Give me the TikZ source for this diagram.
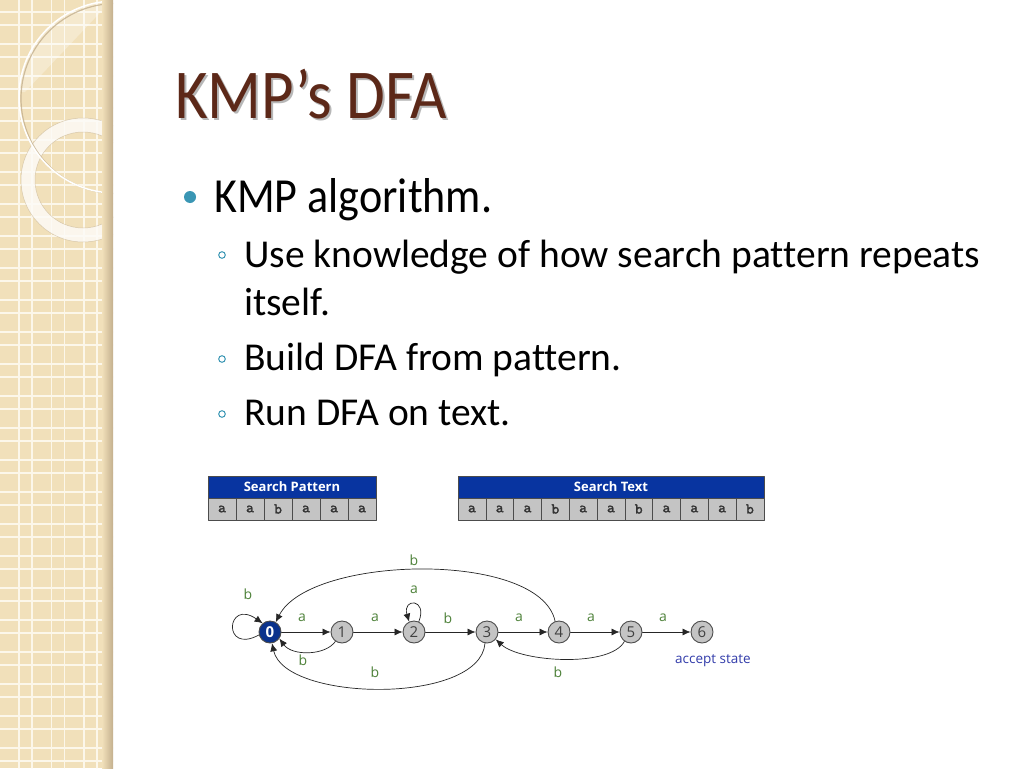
\documentclass[tikz,border=0pt]{standalone}
\usepackage{fontspec}
\setmainfont{Carlito}[Ligatures=NoCommon]
\newfontfamily\narrowfont{Carlito}[FakeStretch=0.9,Ligatures=NoCommon]
\newfontfamily\comicfont{Open Sans}
\newfontfamily\cellfont{lmmono10-regular.otf}[FakeBold=2]
\usetikzlibrary{arrows.meta}
\definecolor{stripbeige}{RGB}{241,224,186}
\definecolor{gridline}{RGB}{252,247,234}
\definecolor{stripshade}{RGB}{196,176,142}
\definecolor{titlebrown}{RGB}{92,40,24}
\definecolor{bullteal}{RGB}{58,150,180}
\definecolor{headblue}{RGB}{8,52,160}
\definecolor{cellgray}{RGB}{196,196,196}
\definecolor{labgreen}{RGB}{78,130,58}
\definecolor{stateblue}{RGB}{10,50,140}
\definecolor{acceptblue}{RGB}{50,60,170}
\begin{document}
\begin{tikzpicture}[x=1pt,y=-1pt,line cap=round,line join=round,
    dfastate/.style={circle,draw=black!70,line width=0.9pt,fill=cellgray,minimum size=22pt,inner sep=0pt,
      text=black!75,font=\comicfont\fontsize{15}{15}\selectfont},
    startstate/.style={dfastate,fill=stateblue,text=white,font=\comicfont\bfseries\fontsize{15}{15}\selectfont},
    edgelab/.style={text=labgreen,inner sep=1pt,font=\comicfont\fontsize{14}{14}\selectfont},
    dfamove/.style={-{Latex[length=8pt,width=7pt]},line width=0.7pt,black!85},
    tabhead/.style={fill=headblue,draw=black!70,line width=0.6pt,minimum height=22pt,inner sep=0pt,
      text=white,font=\comicfont\bfseries\fontsize{13}{14}\selectfont},
    tabcell/.style={fill=cellgray,draw=black!70,line width=0.6pt,minimum width=28pt,minimum height=22pt,inner sep=0pt,
      text=black!80,font=\cellfont\fontsize{15}{15}\selectfont},
    slidetext/.style={anchor=base west,inner sep=0pt,font=\fontsize{39.5}{40}\selectfont}]
  \useasboundingbox (0,0) rectangle (1024,768);
  \fill[white] (0,0) rectangle (1024,768);

  % left strip
  \begin{scope}
    \clip (0,0) rectangle (113,768);
    \fill[stripbeige] (0,0) rectangle (113,768);
    \foreach \k in {0,...,3} {
      \draw[gridline,line width=1.1pt] ({19+32.5*\k},0) -- ({19+32.5*\k},768);
      \draw[gridline,line width=1.1pt] ({32+32.5*\k},0) -- ({32+32.5*\k},768);
    }
    \foreach \k in {0,...,23} {
      \draw[gridline,line width=1.1pt] (0,{12+32*\k}) -- (113,{12+32*\k});
      \draw[gridline,line width=1.1pt] (0,{25+32*\k}) -- (113,{25+32*\k});
    }
    \begin{scope}
      \clip (115,97) circle (96);
      \fill[white,opacity=0.3] (0,0) -- (112,0) -- (25,92) -- (0,92) -- cycle;
    \end{scope}
    \fill[even odd rule,white!88!stripbeige,opacity=0.85] (83,180) circle (62) (83,180) circle (48);
    \draw[stripshade,line width=0.5pt,opacity=0.6] (83,180) circle (62) (83,180) circle (48);
    \draw[stripshade,line width=1.2pt,opacity=0.8] (116,98.5) circle (95);
    \draw[white,line width=1.5pt] (115,97) circle (96);
    \shade[left color=stripbeige,right color=stripshade] (102,0) rectangle (113,768);
  \end{scope}

  % title and bullets
  \node[anchor=base west,inner sep=0pt,text=black!40,opacity=0.7,font=\narrowfont\fontsize{70}{72}\selectfont]
    at (177,120) {KMP’s DFA};
  \node (title) [anchor=base west,inner sep=0pt,text=titlebrown,font=\narrowfont\fontsize{70}{72}\selectfont]
    at (175,118) {KMP’s DFA};
  \fill[bullteal] (190,197) circle (6);
  \node (kmp) [slidetext,font=\narrowfont\fontsize{49}{50}\selectfont] at (214,212) {KMP algorithm.};
  \draw[bullteal,line width=1pt] (222,255) circle (3.3);
  \draw[bullteal,line width=1pt] (222,359) circle (3.3);
  \draw[bullteal,line width=1pt] (222,414) circle (3.3);
  \node (use) [slidetext] at (244,267) {Use knowledge of how search pattern repeats};
  \node (itself) [slidetext] at (244,315) {itself.};
  \node (build) [slidetext] at (244,370) {Build DFA from pattern.};
  \node (run) [slidetext] at (244,425) {Run DFA on text.};

  % tables
  \node[tabhead,minimum width=168pt] (pathead) at (292,487) {Search Pattern};
  \foreach \c [count=\i] in {a,a,b,a,a,a}
    \node[tabcell] (pat\i) at ({194+28*\i},509) {\c};
  \node[tabhead,minimum width=306pt] (txthead) at (611,487) {Search Text};
  \foreach \c [count=\i] in {a,a,a,b,a,a,b,a,a,a,b}
    \node[tabcell,minimum width=27.8pt] (txt\i) at ({444.1+27.8*\i},509) {\c};

  % dfa
  \node[startstate] (s0) at (270,632) {0};
  \node[dfastate] (s1) at (342,632) {1};
  \node[dfastate] (s2) at (414,632) {2};
  \node[dfastate] (s3) at (487,632) {3};
  \node[dfastate] (s4) at (559,632) {4};
  \node[dfastate] (s5) at (631,632) {5};
  \node[dfastate] (s6) at (702,632) {6};

  \draw[dfamove] (s0) -- (s1);
  \draw[dfamove] (s1) -- (s2);
  \draw[dfamove] (s2) -- (s3);
  \draw[dfamove] (s3) -- (s4);
  \draw[dfamove] (s4) -- (s5);
  \draw[dfamove] (s5) -- (s6);
  \draw[dfamove] (s0.195) .. controls (222,655) and (226,598) .. (s0.130);
  \draw[dfamove] (s2.65) .. controls (428,598) and (402,598) .. (s2.115);
  \draw[dfamove] (s1.235) .. controls (325,656) and (292,656) .. (s0.-35);
  \draw[dfamove] (s3.260) .. controls (480,705) and (285,702) .. (s0.-80);
  \draw[dfamove] (s4.110) .. controls (540,550) and (310,555) .. (s0.60);
  \draw[dfamove] (s5.235) .. controls (610,668) and (520,662) .. (s3.-40);

  \node[edgelab] (lb00) at (248,594) {b};
  \node[edgelab] (la01) at (302,618) {a};
  \node[edgelab] (lb10) at (303,660) {b};
  \node[edgelab] (la12) at (375,618) {a};
  \node[edgelab] (la22) at (414,590) {a};
  \node[edgelab] (lb23) at (448,618) {b};
  \node[edgelab] (lb30) at (375,672) {b};
  \node[edgelab] (lb40) at (414,560) {b};
  \node[edgelab] (la34) at (519,618) {a};
  \node[edgelab] (la45) at (591,618) {a};
  \node[edgelab] (lb53) at (558,672) {b};
  \node[edgelab] (la56) at (663,618) {a};
  \node (accept) [text=acceptblue,inner sep=0pt,font=\comicfont\fontsize{13.5}{14}\selectfont] at (713,661) {accept state};
\end{tikzpicture}
\end{document}
